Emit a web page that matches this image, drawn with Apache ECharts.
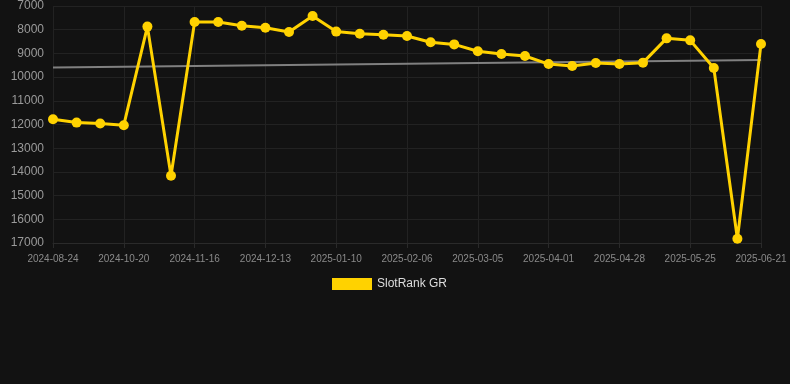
<!DOCTYPE html>
<html>
<head>
<meta charset="utf-8">
<script src="https://cdn.jsdelivr.net/npm/echarts@6/dist/echarts.min.js"></script>
<style>
  html, body { margin: 0; padding: 0; background: #121212; }
  #chart { width: 790px; height: 384px; }
</style>
</head>
<body>
<div id="chart"></div>
<script>
// 日期（每 3 个显示一个标签）
var dates = [
  '2024-08-24', '2024-09-11', '2024-10-01',
  '2024-10-20', '2024-10-29', '2024-11-07',
  '2024-11-16', '2024-11-25', '2024-12-04',
  '2024-12-13', '2024-12-22', '2024-12-31',
  '2025-01-10', '2025-01-19', '2025-01-28',
  '2025-02-06', '2025-02-15', '2025-02-24',
  '2025-03-05', '2025-03-14', '2025-03-23',
  '2025-04-01', '2025-04-10', '2025-04-19',
  '2025-04-28', '2025-05-07', '2025-05-16',
  '2025-05-25', '2025-06-03', '2025-06-12',
  '2025-06-21'
];

// 排名
var ranks = [
  11780, 11920, 11960,
  12030, 7870, 14160,
  7675, 7675, 7830,
  7915, 8100, 7420,
  8080, 8170, 8210,
  8265, 8530, 8620,
  8910, 9025, 9110,
  9450, 9530, 9405,
  9450, 9390, 8365,
  8450, 9615, 16820,
  8600
];

// 趋势线 起点 / 终点
var trendStart = 9600;
var trendEnd = 9280;

var seriesName = 'SlotRank GR';
var yellow = '#ffd200';
var gridColor = '#222222';

var chart = echarts.init(document.getElementById('chart'));
var option = {
  backgroundColor: '#121212',
  animation: false,
  textStyle: { fontFamily: 'Liberation Sans, Arial, sans-serif' },
  grid: { left: 53, right: 29, top: 6, bottom: 141, containLabel: false },
  legend: {
    data: [{ name: seriesName, icon: 'rect', itemStyle: { color: yellow } }],
    top: 278,
    left: 332,
    itemWidth: 40,
    itemHeight: 12,
    padding: 0,
    textStyle: { color: '#dddddd', fontSize: 12 }
  },
  xAxis: {
    type: 'category',
    boundaryGap: false,
    data: dates,
    axisLine: { show: true, lineStyle: { color: '#2a2a2a' } },
    axisTick: { show: true, interval: 2, length: 5, lineStyle: { color: '#2a2a2a' } },
    axisLabel: { interval: 2, color: '#8a8a8a', fontSize: 10, margin: 11 },
    splitLine: { show: true, interval: 2, lineStyle: { color: gridColor } }
  },
  yAxis: {
    type: 'value',
    inverse: true,
    min: 7000,
    max: 17000,
    interval: 1000,
    axisLine: { show: false },
    axisTick: { show: false },
    axisLabel: {
      color: '#9a9a9a',
      fontSize: 12,
      margin: 9,
      formatter: function (v) { return String(v); }
    },
    splitLine: { lineStyle: { color: gridColor } }
  },
  series: [{
    name: 'trend',
    type: 'line',
    z: 1,
    symbol: 'none',
    data: [[dates[0], trendStart], [dates[dates.length - 1], trendEnd]],
    lineStyle: { color: '#808080', width: 2 }
  }, {
    name: seriesName,
    type: 'line',
    z: 3,
    data: ranks,
    symbol: 'circle',
    symbolSize: 10,
    itemStyle: { color: yellow },
    lineStyle: { color: yellow, width: 3 }
  }]
};
chart.setOption(option);
</script>
</body>
</html>
